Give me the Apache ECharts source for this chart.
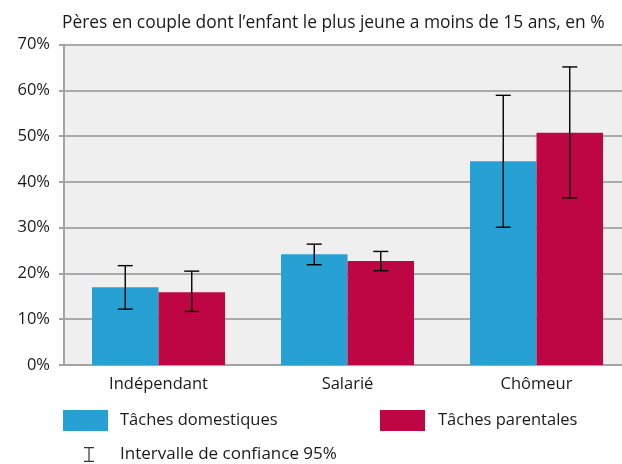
<!DOCTYPE html>
<html>
<head>
<meta charset="utf-8">
<script src="https://cdn.jsdelivr.net/npm/echarts@6/dist/echarts.min.js"></script>
<style>html,body{margin:0;padding:0;background:#fff;}#c{width:622px;height:464px;}</style>
</head>
<body>
<div id="c"></div>
<script>
const categories = ['Indépendant', 'Salarié', 'Chômeur'];
const domestiques = [17.0, 24.2, 44.5];
const domestiquesLow = [12.2, 21.9, 30.1];
const domestiquesHigh = [21.7, 26.4, 58.9];
const parentales = [15.9, 22.7, 50.7];
const parentalesLow = [11.7, 20.6, 36.5];
const parentalesHigh = [20.5, 24.8, 65.1];
const yTicks = [0, 10, 20, 30, 40, 50, 60, 70];

const FONT = 'Open Sans';
const FS = 16.5;
const BAR_W = 66.5;

function errSeries(low, high, offset) {
  return {
    type: 'custom',
    name: 'Intervalle de confiance 95%',
    z: 5,
    data: categories.map((c, i) => [i, low[i], high[i]]),
    renderItem: function (params, api) {
      const i = api.value(0);
      const lo = api.coord([i, api.value(1)]);
      const hi = api.coord([i, api.value(2)]);
      const x = lo[0] + offset;
      const cap = 7.5;
      const style = { stroke: '#000', lineWidth: 1.4 };
      return {
        type: 'group',
        children: [
          { type: 'line', shape: { x1: x, y1: hi[1], x2: x, y2: lo[1] }, style },
          { type: 'line', shape: { x1: x - cap, y1: hi[1], x2: x + cap, y2: hi[1] }, style },
          { type: 'line', shape: { x1: x - cap, y1: lo[1], x2: x + cap, y2: lo[1] }, style }
        ]
      };
    }
  };
}

const chart = echarts.init(document.getElementById('c'), null, { renderer: 'canvas' });
chart.setOption({
  animation: false,
  textStyle: { fontFamily: FONT },
  title: {
    text: "Pères en couple dont l’enfant le plus jeune a moins de 15 ans, en %",
    left: 57, top: 10,
    textStyle: { fontFamily: FONT, fontSize: 17.4, fontWeight: 'normal', color: '#1a1a1a' }
  },
  legend: [
    {
      left: 58, top: 405, itemWidth: 45, itemHeight: 21,
      data: [{ name: 'Tâches domestiques', icon: 'rect' }],
      textStyle: { fontFamily: FONT, fontSize: FS, color: '#1a1a1a', padding: [0, 0, 0, 7] },
      selectedMode: false
    },
    {
      left: 375, top: 405, itemWidth: 45, itemHeight: 21,
      data: [{ name: 'Tâches parentales', icon: 'rect' }],
      textStyle: { fontFamily: FONT, fontSize: FS, color: '#1a1a1a', padding: [0, 0, 0, 8] },
      selectedMode: false
    },
    {
      left: 79, top: 441, itemWidth: 10, itemHeight: 15,
      data: [{ name: 'Intervalle de confiance 95%', icon: 'path://M0,0h10v1.2h-4.4v12.6h4.4v1.2h-10v-1.2h4.4v-12.6h-4.4z', itemStyle: { color: '#333' } }],
      textStyle: { fontFamily: FONT, fontSize: 17, color: '#1a1a1a', padding: [0, 0, 0, 21] },
      selectedMode: false
    }
  ],
  grid: {
    left: 64, top: 44.5, height: 320.5, width: 567,
    outerBoundsMode: 'none', containLabel: false,
    show: true, backgroundColor: '#efefef', borderWidth: 0
  },
  xAxis: {
    type: 'category',
    data: categories,
    axisLine: { lineStyle: { color: '#a3a3a3', width: 2 } },
    axisTick: { show: false },
    axisLabel: { fontFamily: FONT, fontSize: FS, color: '#1a1a1a', margin: 11 }
  },
  yAxis: {
    type: 'value',
    min: yTicks[0], max: yTicks[yTicks.length - 1], interval: 10,
    axisLine: { show: true, lineStyle: { color: '#a3a3a3', width: 2 } },
    axisTick: { show: true, length: 5, lineStyle: { color: '#a3a3a3', width: 2 } },
    splitLine: { lineStyle: { color: '#aaaaaa', width: 2 } },
    axisLabel: { fontFamily: FONT, fontSize: FS, color: '#1a1a1a', margin: 14, formatter: '{value}%' }
  },
  series: [
    { type: 'bar', name: 'Tâches domestiques', data: domestiques, barWidth: BAR_W, barGap: '0%', itemStyle: { color: '#27a1d4' } },
    { type: 'bar', name: 'Tâches parentales', data: parentales, barWidth: BAR_W, barGap: '0%', itemStyle: { color: '#bf0645' } },
    errSeries(domestiquesLow, domestiquesHigh, -BAR_W / 2),
    errSeries(parentalesLow, parentalesHigh, BAR_W / 2)
  ]
});
</script>
</body>
</html>
